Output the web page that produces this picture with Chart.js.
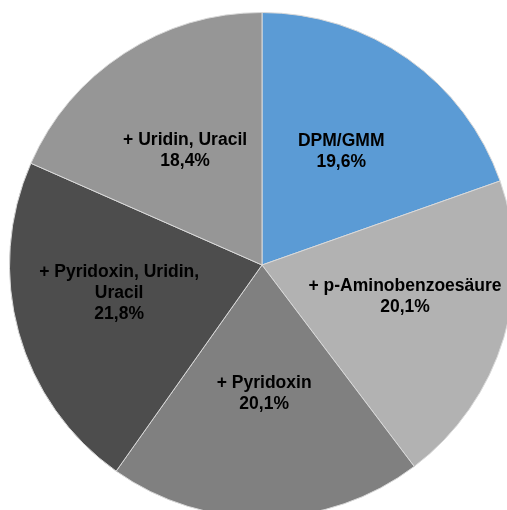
<!DOCTYPE html>
<html>
<head>
<meta charset="utf-8">
<script src="https://cdn.jsdelivr.net/npm/chart.js"></script>
<style>
  html, body { margin: 0; padding: 0; background: #fff; overflow: hidden; }
  #wrap { position: absolute; left: 9px; top: 12px; width: 506px; height: 506px; }
</style>
</head>
<body>
<div id="wrap"><canvas id="pie-chart" width="506" height="506"></canvas></div>
<script>
// slices, clockwise from 12 o'clock
const categories = [
  ['DPM/GMM'],
  ['+ p-Aminobenzoesäure'],
  ['+ Pyridoxin'],
  ['+ Pyridoxin, Uridin,', 'Uracil'],
  ['+ Uridin, Uracil']
];
const shares = [19.6, 20.1, 20.1, 21.8, 18.4];
const percentLabels = ['19,6%', '20,1%', '20,1%', '21,8%', '18,4%'];
const sliceColors = ['#5b9bd5', '#b2b2b2', '#808080', '#4d4d4d', '#969696'];

// small nudges so labels sit where the original "best fit" put them
const labelNudge = [[-1, 0], [10, -8], [0, -10], [-9, -9], [-1, 2]];

// draws category + percentage inside each slice
const sliceLabels = {
  id: 'sliceLabels',
  afterDatasetsDraw(chart) {
    const ctx = chart.ctx;
    const meta = chart.getDatasetMeta(0);
    ctx.save();
    ctx.font = 'bold 17.5px "Liberation Sans", Arial, sans-serif';
    ctx.fillStyle = '#000';
    ctx.textAlign = 'center';
    ctx.textBaseline = 'middle';
    meta.data.forEach((arc, i) => {
      const p = arc.getProps(['x', 'y', 'startAngle', 'endAngle', 'outerRadius'], true);
      const mid = (p.startAngle + p.endAngle) / 2;
      const r = p.outerRadius * 0.55;
      const x = p.x + Math.cos(mid) * r + labelNudge[i][0];
      const y = p.y + Math.sin(mid) * r + labelNudge[i][1];
      const lines = categories[i].concat([percentLabels[i]]);
      const lh = 21;
      const top = y - (lines.length - 1) * lh / 2;
      lines.forEach((t, k) => ctx.fillText(t, x, top + k * lh));
    });
    ctx.restore();
  }
};

const ctx = document.getElementById('pie-chart').getContext('2d');
const myChart = new Chart(ctx, {
  type: 'pie',
  data: {
    labels: categories.map(c => c.join(' ')),
    datasets: [{
      data: shares,
      backgroundColor: sliceColors,
      borderColor: '#d9d9d9',
      borderWidth: 1
    }]
  },
  options: {
    responsive: false,
    animation: false,
    layout: { padding: 0 },
    plugins: {
      legend: { display: false },
      tooltip: { enabled: false }
    }
  },
  plugins: [sliceLabels]
});
</script>
</body>
</html>
